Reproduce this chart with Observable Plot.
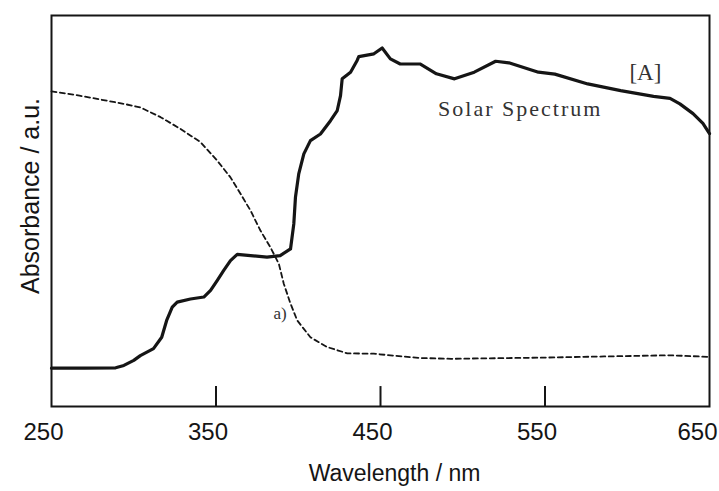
<!DOCTYPE html>
<html>
<head>
<meta charset="utf-8">
<script src="https://cdn.jsdelivr.net/npm/d3@7"></script>
<script src="https://cdn.jsdelivr.net/npm/@observablehq/plot@0.6"></script>
<style>
  html, body { margin: 0; padding: 0; background: #fff; overflow: hidden; }
  #chart svg { display: block; }
</style>
</head>
<body>
<div id="chart"></div>
<script>
// Solar spectrum (solid line)
const solarWavelength = [250, 270, 289, 294, 300, 304, 312, 317, 320, 323.4, 326.4, 334.5, 342.6, 346.7, 350.7, 354.7, 358.8, 362.9, 371, 381, 389, 395.3, 397.3, 398.3, 400.3, 403.4, 407.4, 413.5, 419.6, 423.7, 425.7, 426.7, 431.8, 435.8, 436.8, 446, 451, 456, 462, 474, 484, 495, 507, 520, 528, 546, 556, 576, 596, 616, 626, 632, 640, 646, 650];
const solarValue = [9.8, 9.8, 9.9, 10.5, 11.8, 13.0, 14.8, 17.7, 22.0, 25.4, 26.7, 27.5, 28.0, 29.7, 32.2, 34.8, 37.3, 38.9, 38.6, 38.2, 38.6, 40.3, 46.7, 53.5, 59.5, 64.6, 68.0, 69.7, 73.1, 75.7, 79.5, 83.8, 85.5, 88.5, 89.5, 90.2, 91.7, 88.9, 87.6, 87.6, 85.1, 83.8, 85.5, 88.3, 87.9, 85.5, 85.0, 82.5, 80.8, 79.3, 78.8, 77.4, 74.9, 72.4, 69.8];

// Curve a) absorbance (dashed line)
const aWavelength = [250, 267, 294, 304, 316.3, 328.4, 340.6, 350.7, 358.8, 364.9, 371, 377, 383.1, 388.2, 391.2, 395.3, 399.4, 407.4, 417.6, 429.8, 445.9, 458.1, 474.3, 493, 548, 586, 626, 649];
const aValue = [80.6, 79.5, 77.4, 76.5, 74.0, 71.0, 67.6, 62.9, 58.6, 54.4, 50.1, 45.0, 40.7, 36.5, 31.4, 26.3, 22.0, 17.7, 15.2, 13.6, 13.5, 13.0, 12.4, 12.2, 12.5, 12.8, 13.1, 12.7];

// Axis ticks
const xTickLabels = [250, 350, 450, 550, 650];
const xInnerTicks = [350, 450, 550];

// Annotations (text, wavelength, absorbance)
const annText = ["Solar Spectrum", "[A]", "a)"];
const annX = [485, 611, 389];
const annY = [74.2, 83.4, 22.5];

const solar = solarWavelength.map((w, i) => ({w, v: solarValue[i]}));
const curveA = aWavelength.map((w, i) => ({w, v: aValue[i]}));
const ann = annText.map((t, i) => ({t, w: annX[i], v: annY[i]}));

const ink = "#151515";
const lastTick = xTickLabels[xTickLabels.length - 1];
const axisFont = "Liberation Sans, Arial, sans-serif";

const chart = Plot.plot({
  width: 719,
  height: 491,
  marginLeft: 51,
  marginRight: 10,
  marginTop: 15,
  marginBottom: 85,
  style: {background: "#fff", color: ink},
  x: {domain: [250, 650], label: null},
  y: {domain: [0, 100], axis: null},
  marks: [
    Plot.frame({stroke: ink, strokeWidth: 2}),
    Plot.ruleX(xInnerTicks, {y1: 0, y2: 5.1, stroke: ink, strokeWidth: 2}),
    Plot.axisX({ticks: xTickLabels.filter(d => d !== lastTick), tickSize: 0, tickPadding: 16, fontSize: 24, fontFamily: axisFont, dx: -8, label: null, tickFormat: d => String(d)}),
    Plot.axisX({ticks: [lastTick], tickSize: 0, tickPadding: 16, fontSize: 24, fontFamily: axisFont, dx: -12, label: null, tickFormat: d => String(d)}),
    Plot.line(curveA, {x: "w", y: "v", stroke: ink, strokeWidth: 1.8, strokeDasharray: "5,3.5"}),
    Plot.line(solar, {x: "w", y: "v", stroke: ink, strokeWidth: 3.2, strokeLinejoin: "round"}),
    Plot.text(["Absorbance / a.u."], {frameAnchor: "left", textAnchor: "middle", lineAnchor: "middle", rotate: -90, dx: -21, dy: -15, fontSize: 25, fontFamily: axisFont, fill: ink}),
    Plot.text(["Wavelength / nm"], {frameAnchor: "bottom", textAnchor: "middle", lineAnchor: "bottom", dx: 14, dy: 74, fontSize: 23, fontFamily: axisFont, fill: ink}),
    Plot.text(ann.filter(d => d.t === "Solar Spectrum"), {x: "w", y: "v", text: "t", textAnchor: "start", lineAnchor: "bottom", fontSize: 22, fontFamily: "Liberation Serif, Times New Roman, serif", fill: "#333"}),
    Plot.text(ann.filter(d => d.t === "[A]"), {x: "w", y: "v", text: "t", textAnchor: "middle", lineAnchor: "bottom", fontSize: 23, fontFamily: "Liberation Serif, Times New Roman, serif", fill: "#333"}),
    Plot.text(ann.filter(d => d.t === "a)"), {x: "w", y: "v", text: "t", textAnchor: "middle", lineAnchor: "bottom", fontSize: 17, fontFamily: "Liberation Serif, Times New Roman, serif", fill: "#333"})
  ]
});

d3.select(chart).selectAll("text").filter(function() { return this.textContent === "Solar Spectrum"; }).attr("letter-spacing", "2px");

document.getElementById("chart").appendChild(chart);
</script>
</body>
</html>
